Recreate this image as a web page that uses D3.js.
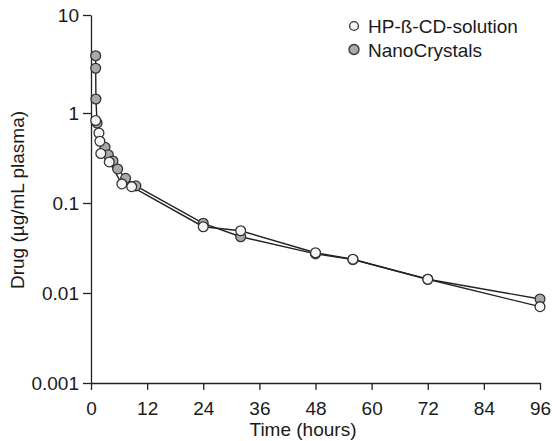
<!DOCTYPE html>
<html>
<head>
<meta charset="utf-8">
<script src="https://cdn.jsdelivr.net/npm/d3@7/dist/d3.min.js"></script>
<style>
  html, body { margin: 0; padding: 0; background: #fff; }
  svg { display: block; font-family: "Liberation Sans", Arial, sans-serif; }
</style>
</head>
<body>
<svg id="chart" width="552" height="441"></svg>
<script>
// Plasma concentration–time profiles (µg/mL), two formulations
const seriesNames = ["HP-ß-CD-solution", "NanoCrystals"];

const hpTimes = [1.0, 1.7, 1.9, 2.1, 3.9, 6.6, 8.7, 24, 32, 48, 56, 72, 96];
const hpConc  = [0.825, 0.60, 0.485, 0.355, 0.286, 0.163, 0.152, 0.0545, 0.0492, 0.0280, 0.0237, 0.0142, 0.00705];

const ncTimes = [1.0, 1.0, 1.05, 1.3, 3.0, 3.7, 4.7, 5.7, 7.4, 9.6, 24, 32, 48, 56, 72, 96];
const ncConc  = [3.84, 2.86, 1.39, 0.774, 0.416, 0.344, 0.293, 0.239, 0.188, 0.155, 0.0595, 0.0422, 0.0272, 0.0235, 0.0142, 0.00858];

const xTicks = [0, 12, 24, 36, 48, 60, 72, 84, 96];
const yTicks = [0.001, 0.01, 0.1, 1, 10];
const yTickLabels = ["0.001", "0.01", "0.1", "1", "10"];

const svg = d3.select("#chart");
const FONT = 19;
const INK = "#222";
const TEXT = "#1a1a1a";

const x = d3.scaleLinear().domain([0, 96]).range([91, 540]);
// log axis; top decade is drawn slightly taller than the others
const y = d3.scaleLog().domain([0.001, 1, 10]).range([383, 113, 15]);

// axes
const xAxis = d3.axisBottom(x).tickValues(xTicks).tickSize(7).tickPadding(6).tickSizeOuter(0);
const yAxis = d3.axisLeft(y).tickValues(yTicks)
  .tickFormat((d, i) => yTickLabels[i]).tickSize(8).tickPadding(4).tickSizeOuter(0);

const gx = svg.append("g").attr("transform", "translate(0,383)").call(xAxis);
const gy = svg.append("g").attr("transform", "translate(91,0)").call(yAxis);

[gx, gy].forEach(g => {
  g.select(".domain").attr("stroke", INK).attr("stroke-width", 1.3);
  g.selectAll(".tick line").attr("stroke", INK).attr("stroke-width", 1.3);
  g.selectAll(".tick text").attr("fill", TEXT).style("font-size", FONT + "px")
    .style("font-family", '"Liberation Sans", Arial, sans-serif');
});
gx.selectAll(".tick text").attr("dy", null).attr("y", 0).attr("transform", "translate(0,32)");
gy.selectAll(".tick text").attr("dy", "0.35em");

// axis titles
svg.append("text")
  .attr("x", 303).attr("y", 436)
  .attr("text-anchor", "middle")
  .attr("fill", TEXT).style("font-size", FONT + "px")
  .text("Time (hours)");

svg.append("text")
  .attr("transform", "translate(24,200) rotate(-90)")
  .attr("text-anchor", "middle")
  .attr("fill", TEXT).style("font-size", FONT + "px")
  .text("Drug (µg/mL plasma)");

// series
const series = [
  { name: seriesNames[1], t: ncTimes, c: ncConc, fill: "#a9a9a9" },
  { name: seriesNames[0], t: hpTimes, c: hpConc, fill: "#f6f6f6" }
];

const line = d3.line().x(d => x(d[0])).y(d => y(d[1]));

series.forEach(s => {
  const pts = s.t.map((t, i) => [t, s.c[i]]);
  svg.append("path")
    .datum(pts)
    .attr("d", line)
    .attr("fill", "none")
    .attr("stroke", INK)
    .attr("stroke-width", 1.4);
});

series.forEach(s => {
  const pts = s.t.map((t, i) => [t, s.c[i]]);
  svg.append("g").selectAll("circle")
    .data(pts)
    .join("circle")
    .attr("cx", d => x(d[0]))
    .attr("cy", d => y(d[1]))
    .attr("r", 4.9)
    .attr("fill", s.fill)
    .attr("stroke", "#333")
    .attr("stroke-width", 1.3);
});

// legend
const legend = svg.append("g");
const legendItems = [
  { name: seriesNames[0], fill: "#f6f6f6", r: 4.4, cy: 26 },
  { name: seriesNames[1], fill: "#a9a9a9", r: 5.0, cy: 49.5 }
];
legendItems.forEach(it => {
  legend.append("circle")
    .attr("cx", 354).attr("cy", it.cy).attr("r", it.r)
    .attr("fill", it.fill).attr("stroke", "#333").attr("stroke-width", 1.3);
  legend.append("text")
    .attr("x", 368).attr("y", it.cy + 7)
    .attr("fill", TEXT).style("font-size", FONT + "px")
    .text(it.name);
});
</script>
</body>
</html>
